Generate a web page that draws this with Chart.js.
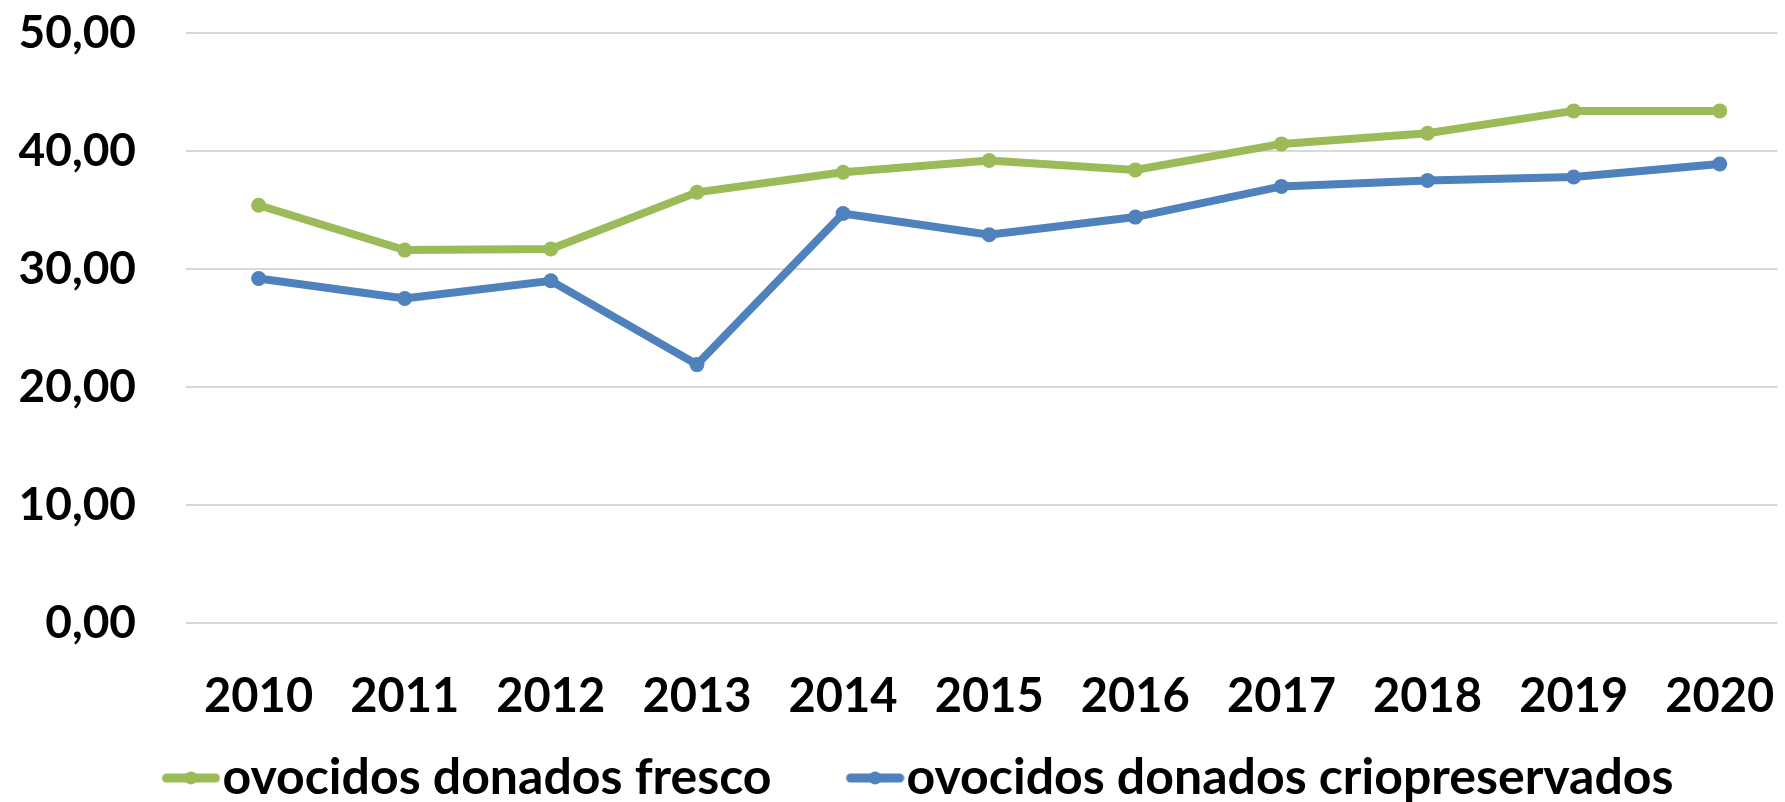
<!DOCTYPE html>
<html>
<head>
<meta charset="utf-8">
<script src="https://cdn.jsdelivr.net/npm/chart.js@4/dist/chart.umd.min.js"></script>
<style>
  html, body { margin: 0; padding: 0; background: #fff; }
  #wrap { width: 1785px; height: 802px; }
</style>
</head>
<body>
<div id="wrap"><canvas id="lineChart"></canvas></div>
<script>
// datos del gráfico
var years = [2010, 2011, 2012, 2013, 2014, 2015, 2016, 2017, 2018, 2019, 2020];
var fresco = [35.4, 31.6, 31.7, 36.5, 38.2, 39.2, 38.4, 40.6, 41.5, 43.4, 43.4];
var crio = [29.2, 27.5, 29.0, 21.9, 34.7, 32.9, 34.4, 37.0, 37.5, 37.8, 38.9];
var yTicks = [0, 10, 20, 30, 40, 50];
var seriesNames = ["ovocidos donados fresco", "ovocidos donados criopreservados"];

var greenColor = '#9BBB59';
var blueColor = '#4F81BD';
var fontFamily = 'Lato, "Open Sans", sans-serif';

var legendFont = 50;
var legendBoxW = 110; // ancho reservado para el icono de la leyenda

function toPoints(values){
	var pts = new Array();
	for(var i=0; i<years.length; i++){
		pts.push({x: years[i], y: values[i]});
	}
	return pts;
}

// icono de leyenda: línea con marcador (pegado al texto, a la derecha)
function legendIcon(color){
	var c = document.createElement('canvas');
	c.width = legendBoxW + legendFont - 4; c.height = 20;
	var g = c.getContext('2d');
	var x1 = c.width - 59, x2 = c.width;
	g.strokeStyle = color;
	g.lineWidth = 9;
	g.lineCap = 'round';
	g.beginPath(); g.moveTo(x1 + 5, 10); g.lineTo(x2 - 5, 10); g.stroke();
	g.fillStyle = color;
	g.beginPath(); g.arc((x1 + x2) / 2, 10, 6.5, 0, Math.PI*2); g.fill();
	return c;
}

// mueve la leyenda un poco a la izquierda
var legendShift = {
	id : 'legendShift',
	afterLayout : function(chart){
		if(chart.legend){ chart.legend.right -= 24; }
	}
};

var chartData = {
	datasets : [
		{
			label : seriesNames[0],
			data : toPoints(fresco),
			borderColor : greenColor,
			backgroundColor : greenColor,
			borderWidth : 8,
			pointRadius : 7.5,
			pointBorderWidth : 0,
			pointBackgroundColor : greenColor,
			tension : 0
		},
		{
			label : seriesNames[1],
			data : toPoints(crio),
			borderColor : blueColor,
			backgroundColor : blueColor,
			borderWidth : 8,
			pointRadius : 7.5,
			pointBorderWidth : 0,
			pointBackgroundColor : blueColor,
			tension : 0
		}
	]
};

var icons = [legendIcon(greenColor), legendIcon(blueColor)];

var chartOptions = {
	maintainAspectRatio : false,
	responsive : true,
	animation : false,
	layout : { padding : { top: 33, right: 0, left: 0, bottom: -11 } },
	plugins : {
		tooltip : { enabled : false },
		legend : {
			position : 'bottom',
			labels : {
				color : '#000',
				font : { family : fontFamily, size : legendFont, weight : 'bold' },
				usePointStyle : true,
				pointStyleWidth : legendBoxW,
				padding : 0,
				boxHeight : 20,
				generateLabels : function(chart){
					return chart.data.datasets.map(function(ds, i){
						return {
							text : ds.label,
							fillStyle : ds.borderColor,
							strokeStyle : ds.borderColor,
							pointStyle : icons[i],
							datasetIndex : i,
							hidden : false,
							lineWidth : 0
						};
					});
				}
			}
		}
	},
	scales : {
		x : {
			type : 'linear',
			min : 2009.503,
			max : 2020.395,
			afterBuildTicks : function(scale){
				scale.ticks = years.map(function(v){ return {value : v}; });
			},
			afterFit : function(scale){
				scale.height = 130;
				scale.paddingLeft = 0;
				scale.paddingRight = 0;
			},
			grid : { display : false },
			border : { display : false },
			ticks : {
				color : '#000',
				padding : 38,
				font : { family : fontFamily, size : 47, weight : 'bold' },
				callback : function(v){ return String(v); },
				maxRotation : 0,
				autoSkip : false
			}
		},
		y : {
			min : 0,
			max : 50,
			afterBuildTicks : function(scale){
				scale.ticks = yTicks.map(function(v){ return {value : v}; });
			},
			afterFit : function(scale){
				scale.width = 186;
				scale.paddingTop = 0;
				scale.paddingBottom = 0;
			},
			grid : { color : '#D9D9D9', lineWidth : 2, drawTicks : false },
			border : { display : false },
			ticks : {
				color : '#000',
				padding : 50,
				font : { family : fontFamily, size : 46, weight : 'bold' },
				callback : function(v){ return v.toFixed(2).replace('.', ','); }
			}
		}
	}
};

var ctx = document.getElementById('lineChart').getContext('2d');
new Chart(ctx, {
	type : 'line',
	data : chartData,
	options : chartOptions,
	plugins : [legendShift]
});
</script>
</body>
</html>
